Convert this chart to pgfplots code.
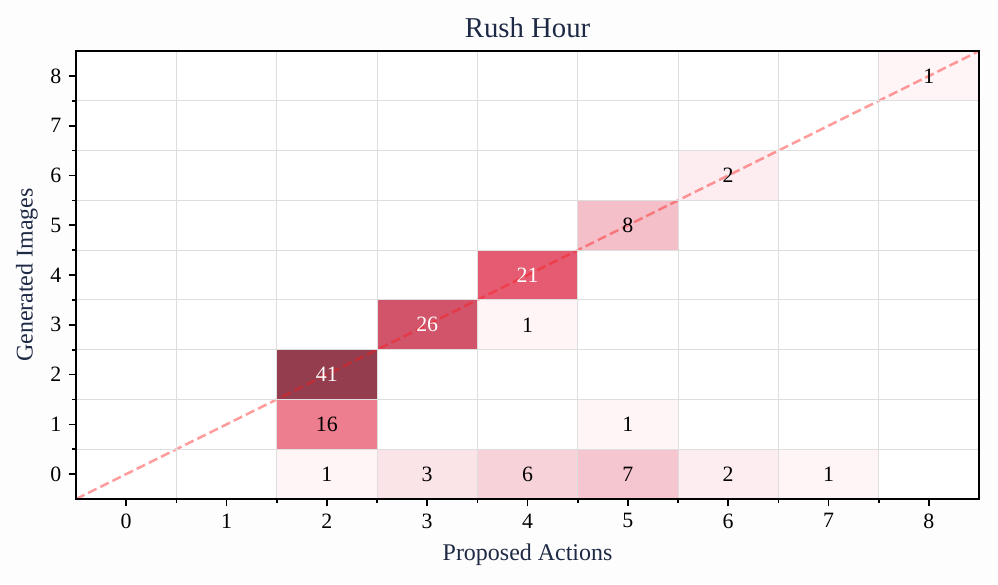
\documentclass[border=0pt]{standalone}
\usepackage{fontspec}
\setmainfont{Liberation Serif}
\usepackage{pgfplots}
\pgfplotsset{compat=1.18}
\usepackage{pgfplotstable}
\definecolor{navy}{HTML}{1E2A45}
\definecolor{gridc}{HTML}{DEDEDE}
\definecolor{diag}{HTML}{FF1A1A}
\definecolor{bg}{HTML}{FDFDFD}
\definecolor{c1}{HTML}{FFF5F6}
\definecolor{c2}{HTML}{FDEDF0}
\definecolor{c3}{HTML}{FAE4E8}
\definecolor{c6}{HTML}{F7D2D9}
\definecolor{c7}{HTML}{F5C6CF}
\definecolor{c8}{HTML}{F4BFC8}
\definecolor{c16}{HTML}{EC7E8F}
\definecolor{c21}{HTML}{E45B72}
\definecolor{c26}{HTML}{D1546B}
\definecolor{c41}{HTML}{933D4E}

% cell counts: x = proposed actions, y = generated images
\pgfplotstableread{
x y label
2 0 1
3 0 3
4 0 6
5 0 7
6 0 2
7 0 1
2 1 16
5 1 1
4 3 1
5 5 8
6 6 2
8 8 1
}\darklabels
\pgfplotstableread{
x y label
2 2 41
3 3 26
4 4 21
}\lightlabels

% one rectangle per cell: \cell{x0}{x1}{y0}{y1}{colour}
\newcommand{\cell}[5]{\addplot[fill=#5, draw=none, forget plot] coordinates {(#1,#3)(#2,#3)(#2,#4)(#1,#4)} -- cycle;}

\begin{document}
\begin{tikzpicture}
\fill[bg] (-36.5pt,-40.8pt) rectangle (442.5pt,239.5pt);
\path[use as bounding box] (-36.5pt,-40.8pt) rectangle (442.5pt,239.5pt);
\begin{axis}[
  at={(0,0)}, anchor=south west,
  scale only axis,
  width=433.4pt, height=215pt,
  xmin=-0.5, xmax=8.5, ymin=-0.5, ymax=8.5,
  xtick={0,...,8}, ytick={0,...,8},
  minor tick num=1,
  grid=minor,
  minor grid style={gridc, line width=0.5pt},
  axis on top,
  axis background/.style={fill=white},
  axis line style={black, line width=0.9pt},
  tick pos=left,
  tick align=outside,
  major tick length=3.5pt,
  minor tick length=2pt,
  every tick/.style={black, line width=0.8pt},
  tick label style={font=\fontsize{10.5}{12}\selectfont, black},
  /pgf/number format/assume math mode=true,
  title={Rush Hour},
  title style={font=\fontsize{13.8}{16}\selectfont, text=navy, yshift=-3pt},
  xlabel={Proposed Actions},
  ylabel={Generated Images},
  label style={font=\fontsize{11.5}{13}\selectfont, text=navy},
  xlabel style={yshift=-0.5pt},
  ylabel style={yshift=-0.8pt},
]
\cell{1.5}{2.5}{-0.5}{0.5}{c1}
\cell{2.5}{3.5}{-0.5}{0.5}{c3}
\cell{3.5}{4.5}{-0.5}{0.5}{c6}
\cell{4.5}{5.5}{-0.5}{0.5}{c7}
\cell{5.5}{6.5}{-0.5}{0.5}{c2}
\cell{6.5}{7.5}{-0.5}{0.5}{c1}
\cell{1.5}{2.5}{0.5}{1.5}{c16}
\cell{4.5}{5.5}{0.5}{1.5}{c1}
\cell{1.5}{2.5}{1.5}{2.5}{c41}
\cell{2.5}{3.5}{2.5}{3.5}{c26}
\cell{3.5}{4.5}{2.5}{3.5}{c1}
\cell{3.5}{4.5}{3.5}{4.5}{c21}
\cell{4.5}{5.5}{4.5}{5.5}{c8}
\cell{5.5}{6.5}{5.5}{6.5}{c2}
\cell{7.5}{8.5}{7.5}{8.5}{c1}

\addplot[diag, opacity=0.43, line width=1.2pt, dash pattern=on 4.5pt off 2pt, forget plot]
  coordinates {(-0.5,-0.5)(8.5,8.5)};

\addplot[only marks, mark=none, point meta=explicit symbolic,
  nodes near coords, every node near coord/.append style={anchor=center, black, font=\fontsize{10.5}{12}\selectfont}]
  table[meta=label] {\darklabels};
\addplot[only marks, mark=none, point meta=explicit symbolic,
  nodes near coords, every node near coord/.append style={anchor=center, white, font=\fontsize{10.5}{12}\selectfont}]
  table[meta=label] {\lightlabels};
\end{axis}
\end{tikzpicture}
\end{document}
